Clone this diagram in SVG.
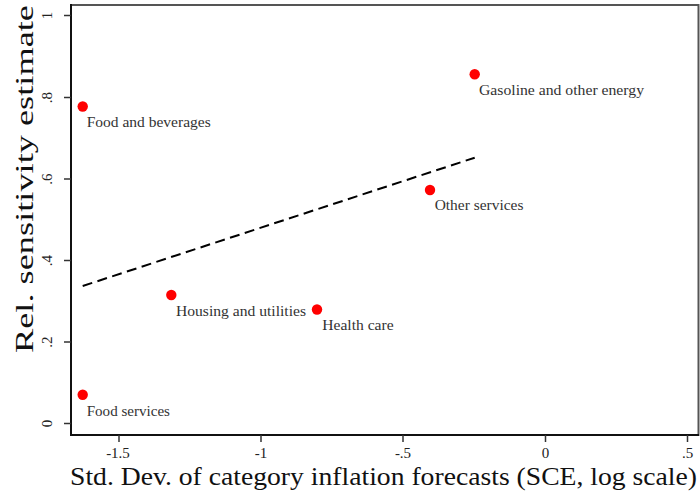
<svg xmlns="http://www.w3.org/2000/svg" width="700" height="494" viewBox="0 0 700 494">
<style>
.tick{stroke:#333;stroke-width:1.5}
.tl{font-family:"Liberation Serif","DejaVu Serif",serif;font-size:15px;fill:#222;text-anchor:middle}
.title{font-family:"Liberation Serif","DejaVu Serif",serif;font-size:26px;fill:#111}
.lab{font-family:"Liberation Serif","DejaVu Serif",serif;font-size:14px;fill:#333}
.pt{fill:#ff0000}
</style>
<rect width="700" height="494" fill="#ffffff"/>
<g id="frame">
<rect x="71" y="5" width="627.5" height="430" fill="none" stroke="#555" stroke-width="2"/>
<line x1="71" y1="4" x2="71" y2="436" stroke="#111" stroke-width="2"/>
<line x1="70" y1="435" x2="699" y2="435" stroke="#111" stroke-width="2"/>
</g>
<g id="y-axis">
<line class="tick" x1="64" y1="15.5" x2="71" y2="15.5"/>
<line class="tick" x1="64" y1="97.5" x2="71" y2="97.5"/>
<line class="tick" x1="64" y1="179" x2="71" y2="179"/>
<line class="tick" x1="64" y1="260.5" x2="71" y2="260.5"/>
<line class="tick" x1="64" y1="342" x2="71" y2="342"/>
<line class="tick" x1="64" y1="423.5" x2="71" y2="423.5"/>
<text class="tl" transform="translate(52,15.5) rotate(-90)">1</text>
<text class="tl" transform="translate(52,97.5) rotate(-90)">.8</text>
<text class="tl" transform="translate(52,179) rotate(-90)">.6</text>
<text class="tl" transform="translate(52,260.5) rotate(-90)">.4</text>
<text class="tl" transform="translate(52,342) rotate(-90)">.2</text>
<text class="tl" transform="translate(52,423.5) rotate(-90)">0</text>
<text class="title" text-anchor="middle" transform="translate(33,179) rotate(-90)" textLength="348" lengthAdjust="spacingAndGlyphs">Rel. sensitivity estimate</text>
</g>
<g id="x-axis">
<line class="tick" x1="119" y1="435" x2="119" y2="442"/>
<line class="tick" x1="261" y1="435" x2="261" y2="442"/>
<line class="tick" x1="403" y1="435" x2="403" y2="442"/>
<line class="tick" x1="545.5" y1="435" x2="545.5" y2="442"/>
<line class="tick" x1="687.5" y1="435" x2="687.5" y2="442"/>
<text class="tl" x="118" y="458">-1.5</text>
<text class="tl" x="261" y="458">-1</text>
<text class="tl" x="403" y="458">-.5</text>
<text class="tl" x="545.5" y="458">0</text>
<text class="tl" x="687.5" y="458">.5</text>
<text class="title" x="70" y="485" textLength="627" lengthAdjust="spacingAndGlyphs">Std. Dev. of category inflation forecasts (SCE, log scale)</text>
</g>
<g id="fit-line">
<line x1="82.7" y1="286" x2="474.7" y2="157.7" stroke="#000" stroke-width="2" stroke-dasharray="10 5.5"/>
</g>
<g id="food-beverages">
<circle class="pt" cx="82.7" cy="106.5" r="5.2"/>
<text class="lab" x="86.7" y="126.5" textLength="124" lengthAdjust="spacingAndGlyphs">Food and beverages</text>
</g>
<g id="gasoline">
<circle class="pt" cx="474.7" cy="74.3" r="5.2"/>
<text class="lab" x="479" y="94.5" textLength="165" lengthAdjust="spacingAndGlyphs">Gasoline and other energy</text>
</g>
<g id="other-services">
<circle class="pt" cx="430" cy="190" r="5.2"/>
<text class="lab" x="434.7" y="209.5" textLength="88.7" lengthAdjust="spacingAndGlyphs">Other services</text>
</g>
<g id="housing">
<circle class="pt" cx="171.3" cy="295" r="5.2"/>
<text class="lab" x="176" y="315.5" textLength="130" lengthAdjust="spacingAndGlyphs">Housing and utilities</text>
</g>
<g id="health-care">
<circle class="pt" cx="317" cy="309.5" r="5.2"/>
<text class="lab" x="322.3" y="329.5" textLength="71.3" lengthAdjust="spacingAndGlyphs">Health care</text>
</g>
<g id="food-services">
<circle class="pt" cx="82.7" cy="394.7" r="5.2"/>
<text class="lab" x="86.7" y="415.5" textLength="83.3" lengthAdjust="spacingAndGlyphs">Food services</text>
</g>
</svg>
